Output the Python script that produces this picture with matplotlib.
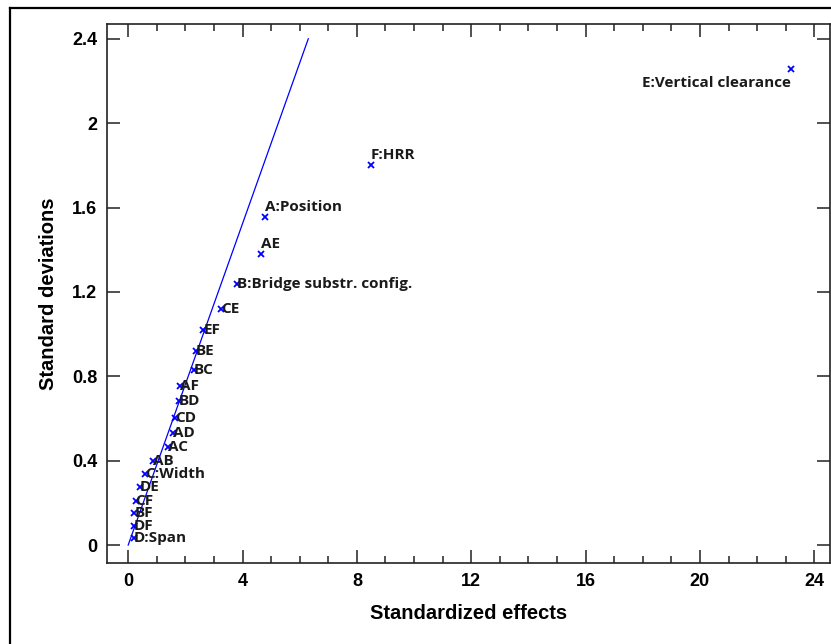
import matplotlib.pyplot as plt
from matplotlib.lines import Line2D
from matplotlib.ticker import MultipleLocator

# half-normal plot of standardized effects
effects = ["E:Vertical clearance", "F:HRR", "A:Position", "AE", "B:Bridge substr. config.",
           "CE", "EF", "BE", "BC", "AF", "BD", "CD", "AD", "AC", "AB", "C:Width",
           "DE", "CF", "BF", "DF", "D:Span"]
std_effects = [23.19, 8.48, 4.79, 4.64, 3.82, 3.24, 2.63, 2.36, 2.30, 1.81, 1.77, 1.64,
               1.56, 1.40, 0.87, 0.58, 0.41, 0.26, 0.21, 0.20, 0.20]
std_devs = [2.258, 1.803, 1.556, 1.380, 1.238, 1.120, 1.020, 0.920, 0.830, 0.754, 0.683,
            0.602, 0.531, 0.465, 0.398, 0.337, 0.275, 0.209, 0.152, 0.090, 0.033]
ref_x = [0, 6.3]
ref_y = [0, 2.4]

plt.rcParams['font.family'] = ['Liberation Sans Narrow', 'Liberation Sans', 'DejaVu Sans']

fig = plt.figure(figsize=(8.31, 6.44), dpi=100)
ax = fig.add_axes([0.1288, 0.1258, 0.87, 0.8369])

ax.plot(ref_x, ref_y, color="#0000ff", lw=0.9)
ax.plot(std_effects, std_devs, ls="none", marker="x", color="#0000ff", ms=4, mew=1.3)

# label placement
special = {
    "E:Vertical clearance": ((0, -5), "right", "top"),
    "F:HRR": ((0, 2), "left", "bottom"),
    "A:Position": ((0, 2), "left", "bottom"),
    "AE": ((0, 2), "left", "bottom"),
}
for name, x, y in zip(effects, std_effects, std_devs):
    off, ha, va = special.get(name, ((0, 0), "left", "center"))
    ax.annotate(name, (x, y), xytext=off, textcoords="offset points", ha=ha, va=va,
                fontsize=11, fontweight="bold", family=["Open Sans", "DejaVu Sans"],
                color="#1a1a1a")

ax.set_xlim(-0.74, 24.55)
ax.set_ylim(-0.085, 2.47)
ax.xaxis.set_major_locator(MultipleLocator(4))
ax.xaxis.set_minor_locator(MultipleLocator(1))
ax.set_yticks([0, 0.4, 0.8, 1.2, 1.6, 2.0, 2.4])
ax.set_yticklabels(["0", "0.4", "0.8", "1.2", "1.6", "2", "2.4"])

ax.tick_params(axis="both", which="major", direction="in", length=9.5, width=1.1,
               top=True, right=True, labelsize=13, pad=7, color="#222222")
ax.tick_params(axis="x", which="minor", direction="in", length=4.8, width=1.1,
               top=True, color="#222222")
for lab in ax.get_xticklabels() + ax.get_yticklabels():
    lab.set_fontweight("bold")

for side in ax.spines.values():
    side.set_linewidth(1.2)
    side.set_color("#222222")

ax.set_xlabel("Standardized effects", fontsize=14.5, fontweight="bold", labelpad=10)
ax.set_ylabel("Standard deviations", fontsize=14.5, fontweight="bold", labelpad=10)

# outer frame of the original figure
fig.add_artist(Line2D([10 / 831, 10 / 831], [0, 1 - 8 / 644], transform=fig.transFigure,
                      color="black", lw=1.6))
fig.add_artist(Line2D([10 / 831, 1], [1 - 8 / 644, 1 - 8 / 644], transform=fig.transFigure,
                      color="black", lw=1.6))

fig.savefig("out.png", dpi=100)
